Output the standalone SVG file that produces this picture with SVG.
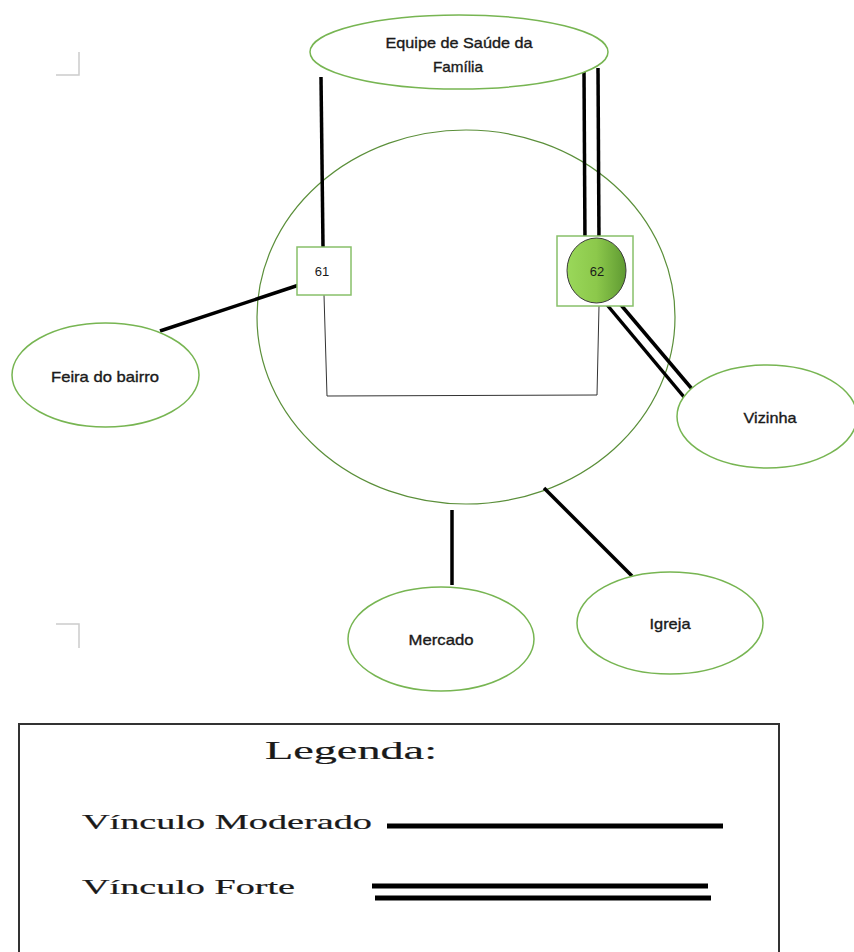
<svg xmlns="http://www.w3.org/2000/svg" width="854" height="952" viewBox="0 0 854 952">
  <style>
    .node { fill: #ffffff; stroke: #77b552; stroke-width: 1.5; }
    .lbl { font-family: "Liberation Sans", Arial, sans-serif; font-size: 15px; fill: #1a1a1a; text-anchor: middle; stroke: #1a1a1a; stroke-width: 0.35; }
    .num { font-family: "Liberation Sans", Arial, sans-serif; font-size: 13px; fill: #1a1a1a; text-anchor: middle; }
    .mod { stroke: #000000; stroke-width: 3.5; fill: none; }
    .thin { stroke: #333333; stroke-width: 1; fill: none; }
    .leg { font-family: "Liberation Serif", "Times New Roman", serif; fill: #1a1a1a; stroke: #1a1a1a; stroke-width: 0.2; }
    .mark { stroke: #cccccc; stroke-width: 1.5; fill: none; }
  </style>
  <defs>
    <linearGradient id="g62" x1="0" y1="0" x2="1" y2="0">
      <stop offset="0" stop-color="#9ad85a"/>
      <stop offset="0.5" stop-color="#8cc84b"/>
      <stop offset="1" stop-color="#5f9a32"/>
    </linearGradient>
  </defs>
  <rect x="0" y="0" width="854" height="952" fill="#ffffff"/>

  <!-- page corner marks -->
  <path class="mark" d="M56 75 H79 V52"/>
  <path class="mark" d="M56 624 H79 V648"/>

  <!-- big circle -->
  <ellipse cx="466" cy="317" rx="209" ry="187" fill="none" stroke="#5b8f3a" stroke-width="1.2"/>

  <g id="connectors">
    <line class="mod" x1="321" y1="77" x2="323" y2="247"/>
    <line class="mod" x1="584" y1="71" x2="585" y2="247"/>
    <line class="mod" x1="598" y1="68" x2="599" y2="244"/>
    <line class="mod" x1="160" y1="331" x2="299" y2="285"/>
    <line class="mod" x1="610" y1="292" x2="692" y2="389"/>
    <line class="mod" x1="603" y1="300" x2="684" y2="397"/>
    <line class="mod" x1="452" y1="510" x2="452" y2="585"/>
    <line class="mod" x1="544" y1="488" x2="632" y2="576"/>
    <path class="thin" d="M324 295 L327 396 L597 395 L599 306"/>
  </g>

  <g id="equipe">
    <ellipse class="node" cx="459" cy="52" rx="149" ry="37"/>
    <text class="lbl" x="459" y="48" textLength="147" lengthAdjust="spacingAndGlyphs">Equipe de Saúde da</text>
    <text class="lbl" x="458" y="72" textLength="50" lengthAdjust="spacingAndGlyphs">Família</text>
  </g>

  <g id="n61">
    <rect x="297" y="247" width="54" height="48" fill="#ffffff" stroke="#88c06a" stroke-width="1.5"/>
    <text class="num" x="322" y="276">61</text>
  </g>

  <g id="n62">
    <rect x="557" y="236" width="76" height="70" fill="#ffffff" stroke="#88c06a" stroke-width="1.5"/>
    <ellipse cx="596.5" cy="270.5" rx="29.5" ry="32.5" fill="url(#g62)" stroke="#3a3a3a" stroke-width="1"/>
    <text class="num" x="597" y="276">62</text>
  </g>

  <g id="feira">
    <ellipse class="node" cx="105.5" cy="375" rx="93.5" ry="52"/>
    <text class="lbl" x="105" y="382" textLength="108" lengthAdjust="spacingAndGlyphs">Feira do bairro</text>
  </g>

  <g id="vizinha">
    <ellipse class="node" cx="767" cy="416.5" rx="90" ry="51.5"/>
    <text class="lbl" x="770" y="423" textLength="53" lengthAdjust="spacingAndGlyphs">Vizinha</text>
  </g>

  <g id="mercado">
    <ellipse class="node" cx="441" cy="639" rx="93" ry="52"/>
    <text class="lbl" x="441" y="645" textLength="65" lengthAdjust="spacingAndGlyphs">Mercado</text>
  </g>

  <g id="igreja">
    <ellipse class="node" cx="670" cy="623" rx="93" ry="51"/>
    <text class="lbl" x="670" y="629" textLength="41" lengthAdjust="spacingAndGlyphs">Igreja</text>
  </g>

  <g id="legenda">
    <rect x="19" y="724" width="760" height="240" fill="#ffffff" stroke="#333333" stroke-width="2"/>
    <text class="leg" x="265" y="759" font-size="26" textLength="172" lengthAdjust="spacingAndGlyphs">Legenda:</text>
    <text class="leg" x="82" y="829" font-size="21" textLength="290" lengthAdjust="spacingAndGlyphs">Vínculo Moderado</text>
    <text class="leg" x="82" y="894" font-size="21" textLength="213" lengthAdjust="spacingAndGlyphs">Vínculo Forte</text>
    <line x1="387" y1="826" x2="723" y2="826" stroke="#000000" stroke-width="5"/>
    <line x1="372" y1="886" x2="708" y2="886" stroke="#000000" stroke-width="5"/>
    <line x1="375" y1="898" x2="711" y2="898" stroke="#000000" stroke-width="5"/>
  </g>
</svg>
